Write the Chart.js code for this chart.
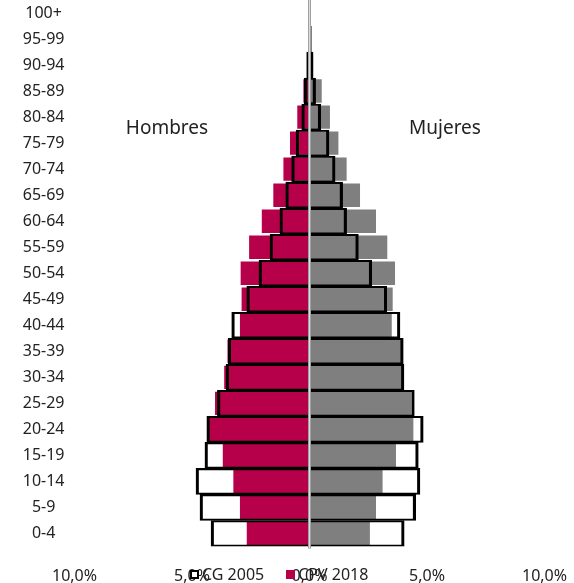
<!DOCTYPE html>
<html>
<head>
<meta charset="utf-8">
<script src="https://cdn.jsdelivr.net/npm/chart.js@4"></script>
<style>
  body { margin: 0; background: #fff; }
  #wrap { position: relative; width: 574px; height: 583px; font-family: 'Noto Sans', sans-serif; color: #222; }
  .note { position: absolute; font-size: 19px; transform: translate(-50%, -50%); white-space: nowrap; }
  #legend { position: absolute; left: 190px; top: 565px; font-size: 16px; display: flex; align-items: center; line-height: 19px; }
  #legend .box { display: inline-block; width: 9px; height: 9px; box-sizing: border-box; margin-right: 3px; }
</style>
</head>
<body>
<div id="wrap">
  <canvas id="pyramidChart" width="574" height="583"></canvas>
  <div class="note" style="left:167px;top:127px;">Hombres</div>
  <div class="note" style="left:445px;top:127px;">Mujeres</div>
  <div id="legend">
    <span class="box" style="border:2px solid #000;background:#fff;"></span><span style="margin-right:22px;">CG 2005</span>
    <span class="box" style="background:#B7004A;"></span><span>CPV 2018</span>
  </div>
</div>
<script>
// age groups, bottom to top
var ageGroups = ['0-4', '5-9', '10-14', '15-19', '20-24', '25-29', '30-34', '35-39', '40-44', '45-49',
    '50-54', '55-59', '60-64', '65-69', '70-74', '75-79', '80-84', '85-89', '90-94', '95-99', '100+'];

// % of population, CPV 2018 (filled bars)
var cpvMen = [2.67, 2.96, 3.24, 3.69, 4.34, 4.02, 3.63, 3.49, 2.96, 2.89, 2.93, 2.57, 2.03, 1.54, 1.11, 0.83, 0.52, 0.26, 0.11, 0.03, 0.01];
var cpvWomen = [2.57, 2.83, 3.11, 3.68, 4.42, 4.32, 3.94, 3.92, 3.50, 3.54, 3.64, 3.31, 2.83, 2.15, 1.58, 1.23, 0.87, 0.52, 0.16, 0.06, 0.01];

// % of population, CG 2005 (outlined bars)
var cgMen = [4.19, 4.66, 4.83, 4.45, 4.37, 3.92, 3.55, 3.46, 3.31, 2.67, 2.15, 1.68, 1.26, 1.01, 0.76, 0.57, 0.33, 0.22, 0.12, 0.04, 0.01];
var cgWomen = [4.03, 4.52, 4.70, 4.63, 4.84, 4.46, 4.02, 3.99, 3.85, 3.29, 2.65, 2.08, 1.58, 1.41, 1.09, 0.83, 0.48, 0.26, 0.15, 0.08, 0.01];

var xTicks = [-10, -5, 0, 5, 10];

function neg(arr) { return arr.map(function(v) { return -v; }); }

var cgBorder = { top: 1.4, bottom: 1.4, left: 2.5, right: 2.5 };

// light axis line through 0, drawn over the bars
var centerLine = {
    id: 'centerLine',
    afterDatasetsDraw: function(chart) {
        var ctx = chart.ctx;
        var x0 = chart.scales.x.getPixelForValue(0);
        var area = chart.chartArea;
        ctx.save();
        ctx.fillStyle = '#8c8c8c';
        ctx.fillRect(x0 - 1.5, area.top, 3, area.bottom - area.top + 2);
        ctx.fillStyle = '#dcdcdc';
        ctx.fillRect(x0 - 0.75, area.top, 1.5, area.bottom - area.top + 2);
        ctx.restore();
    }
};

var ctx = document.getElementById('pyramidChart').getContext('2d');
var pyramidChart = new Chart(ctx, {
    type: 'bar',
    data: {
        labels: ageGroups,
        datasets: [{
            label: 'CG 2005',
            data: neg(cgMen),
            backgroundColor: 'rgba(0,0,0,0)',
            borderColor: '#000',
            borderWidth: cgBorder,
            barPercentage: 1,
            categoryPercentage: 1,
            grouped: false,
            order: 0
        }, {
            label: 'CG 2005',
            data: cgWomen,
            backgroundColor: 'rgba(0,0,0,0)',
            borderColor: '#000',
            borderWidth: cgBorder,
            barPercentage: 1,
            categoryPercentage: 1,
            grouped: false,
            order: 0
        }, {
            label: 'CPV 2018',
            data: neg(cpvMen),
            backgroundColor: '#B7004A',
            borderWidth: 0,
            barPercentage: 0.9,
            categoryPercentage: 1,
            grouped: false,
            order: 1
        }, {
            label: 'CPV 2018',
            data: cpvWomen,
            backgroundColor: '#7F7F7F',
            borderWidth: 0,
            barPercentage: 0.9,
            categoryPercentage: 1,
            grouped: false,
            order: 1
        }]
    },
    options: {
        indexAxis: 'y',
        responsive: false,
        animation: false,
        layout: {
            padding: { left: 23, right: 29.5, top: 0, bottom: 0 }
        },
        plugins: {
            legend: { display: false },
            tooltip: { enabled: false }
        },
        scales: {
            x: {
                min: -10,
                max: 10,
                afterBuildTicks: function(axis) {
                    axis.ticks = xTicks.map(function(v) { return { value: v }; });
                },
                afterFit: function(axis) {
                    axis.height = 36.5;
                    axis.paddingLeft = 0;
                    axis.paddingRight = 0;
                },
                grid: { display: false, drawTicks: false },
                border: { display: false },
                ticks: {
                    padding: 20,
                    color: '#222',
                    font: { family: 'Noto Sans', size: 16 },
                    maxRotation: 0,
                    callback: function(v) {
                        return Math.abs(v).toFixed(1).replace('.', ',') + '%';
                    }
                }
            },
            y: {
                reverse: true,
                afterFit: function(axis) {
                    axis.width = 51.5;
                    axis.paddingTop = 0;
                    axis.paddingBottom = 0;
                },
                grid: { display: false, drawTicks: false },
                border: { display: false },
                ticks: {
                    padding: 10,
                    crossAlign: 'center',
                    autoSkip: false,
                    color: '#222',
                    font: { family: 'Noto Sans', size: 16 }
                }
            }
        }
    },
    plugins: [centerLine]
});
</script>
</body>
</html>
